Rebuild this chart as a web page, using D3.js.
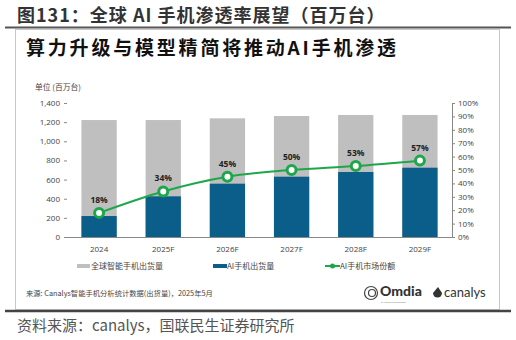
<!DOCTYPE html>
<html><head><meta charset="utf-8">
<script src="https://cdn.jsdelivr.net/npm/d3@7"></script>
<style>body{margin:0;background:#fff}svg{display:block}</style>
</head><body>
<script>
const categories = ["2024","2025F","2026F","2027F","2028F","2029F"];
const totalShipments = [1222,1222,1240,1264,1275,1275];
const aiShipments = [219,425,557,630,679,724];
const aiShare = [18,34,45,50,53,57];
const leftTicks = [0,200,400,600,800,1000,1200,1400];
const rightTicks = [0,10,20,30,40,50,60,70,80,90,100];
const legendLabels = ["全球智能手机出货量","AI手机出货量","AI手机市场份额"];

const W=516,H=340;
const font='"Noto Sans CJK SC","Noto Sans",sans-serif';
const svg=d3.select("body").append("svg").attr("width",W).attr("height",H);

// heading
svg.append("text").attr("x",17).attr("y",22).attr("font-family",font).attr("font-weight",700)
  .attr("font-size",18).attr("letter-spacing",1).attr("fill","#333").text("图131：全球 AI  手机渗透率展望（百万台）");
svg.append("line").attr("x1",5).attr("x2",511).attr("y1",27.5).attr("y2",27.5).attr("stroke","#555").attr("stroke-width",2);
// box
svg.append("rect").attr("x",15.5).attr("y",29.5).attr("width",484).attr("height",280).attr("fill","none").attr("stroke","#c8c8c8").attr("stroke-width",1);
svg.append("line").attr("x1",5).attr("x2",511).attr("y1",311).attr("y2",311).attr("stroke","#444").attr("stroke-width",2.5);
svg.append("text").attr("x",17).attr("y",331).attr("font-family",font).attr("font-size",15)
  .attr("fill","#555").text("资料来源：canalys，国联民生证券研究所");

svg.append("text").attr("x",26).attr("y",55).attr("font-family",font).attr("font-weight",700)
  .attr("font-size",19).attr("letter-spacing",2.8).attr("fill","#111").text("算力升级与模型精简将推动AI手机渗透");

const x=d3.scaleBand().domain(categories).range([67,452]).paddingInner(0.45).paddingOuter(0.225);
const y=d3.scaleLinear().domain([0,1400]).range([237,103]);
const y2=d3.scaleLinear().domain([0,100]).range([237,103]);

svg.append("text").attr("x",35).attr("y",90).attr("font-family",font).attr("font-size",7.8).attr("fill","#444").text("单位 (百万台)");

const tickFont='"Open Sans","Noto Sans",sans-serif';
const gl=svg.append("g").attr("transform","translate(67,0)")
  .call(d3.axisLeft(y).tickValues(leftTicks).tickFormat(d3.format(",")).tickSize(3).tickPadding(4));
gl.select(".domain").remove();
gl.selectAll("line").attr("stroke","#888");
gl.selectAll("text").attr("font-family",tickFont).attr("font-size",8).attr("fill","#444");

const gr=svg.append("g").attr("transform","translate(452,0)")
  .call(d3.axisRight(y2).tickValues(rightTicks).tickFormat(d=>d+"%").tickSize(3).tickPadding(3));
gr.select(".domain").attr("stroke","#888");
gr.selectAll("line").attr("stroke","#888");
gr.selectAll("text").attr("font-family",tickFont).attr("font-size",8).attr("fill","#444");

// bars
svg.append("g").selectAll("rect").data(categories).join("rect")
  .attr("x",d=>x(d)).attr("width",x.bandwidth())
  .attr("y",(d,i)=>y(totalShipments[i])).attr("height",(d,i)=>y(0)-y(totalShipments[i])).attr("fill","#bfbfbf");
svg.append("g").selectAll("rect").data(categories).join("rect")
  .attr("x",d=>x(d)).attr("width",x.bandwidth())
  .attr("y",(d,i)=>y(aiShipments[i])).attr("height",(d,i)=>y(0)-y(aiShipments[i])).attr("fill","#0b5e8a");

svg.append("line").attr("x1",67).attr("x2",452).attr("y1",237.5).attr("y2",237.5).attr("stroke","#888");

const gx=svg.append("g").attr("transform","translate(0,237)").call(d3.axisBottom(x).tickSize(0).tickPadding(9));
gx.select(".domain").remove();
gx.selectAll("text").attr("font-family",tickFont).attr("font-size",8).attr("fill","#444");

// line
const pts=categories.map((c,i)=>[x(c)+x.bandwidth()/2,y2(aiShare[i])]);
svg.append("path").attr("d",d3.line().curve(d3.curveMonotoneX)(pts)).attr("fill","none").attr("stroke","#1ea64a").attr("stroke-width",2);
svg.append("g").selectAll("circle").data(pts).join("circle").attr("cx",d=>d[0]).attr("cy",d=>d[1]).attr("r",4.5)
  .attr("fill","#fff").attr("stroke","#1ea64a").attr("stroke-width",3);
svg.append("g").selectAll("text").data(pts).join("text").attr("x",d=>d[0]).attr("y",d=>d[1]-10)
  .attr("text-anchor","middle").attr("font-family",tickFont).attr("font-weight",700).attr("font-size",8.5).attr("fill","#222")
  .text((d,i)=>aiShare[i]+"%");

// legend
const ly=266;
const lg=svg.append("g").attr("font-family",font).attr("font-size",8).attr("fill","#444");
lg.append("rect").attr("x",77).attr("y",ly-2).attr("width",13).attr("height",4).attr("fill","#bfbfbf");
lg.append("text").attr("x",91).attr("y",ly+3).text(legendLabels[0]);
lg.append("rect").attr("x",213).attr("y",ly-2).attr("width",14).attr("height",4).attr("fill","#0b5e8a");
lg.append("text").attr("x",227).attr("y",ly+3).text(legendLabels[1]);
lg.append("line").attr("x1",325).attr("x2",340).attr("y1",ly).attr("y2",ly).attr("stroke","#1ea64a").attr("stroke-width",2);
lg.append("circle").attr("cx",332.5).attr("cy",ly).attr("r",2.5).attr("fill","#1ea64a");
lg.append("text").attr("x",340).attr("y",ly+3).text(legendLabels[2]);

// source & logos
svg.append("text").attr("x",26).attr("y",296).attr("font-family",font).attr("font-size",7.3).attr("fill","#444")
  .text("来源: Canalys智能手机分析统计数据(出货量)，2025年5月");
const lo=svg.append("g");
lo.append("circle").attr("cx",371).attr("cy",293).attr("r",6.5).attr("fill","none").attr("stroke","#444").attr("stroke-width",1.2);
lo.append("circle").attr("cx",372).attr("cy",293).attr("r",3.5).attr("fill","none").attr("stroke","#444").attr("stroke-width",1.2);
lo.append("text").attr("x",380).attr("y",296).attr("font-family","Lato,sans-serif").attr("font-weight",900).attr("font-size",14).attr("fill","#333").text("Omdia");
lo.append("text").attr("x",381).attr("y",302.5).attr("font-family","sans-serif").attr("font-size",2.5).attr("fill","#777").text("by Informa TechTarget");
lo.append("path").attr("d","M438,287 L433,293 A4.5,4.5 0 1 0 442,293 Z").attr("fill","#333");
lo.append("text").attr("x",444).attr("y",297).attr("font-family","Lato,sans-serif").attr("font-size",13).attr("fill","#333").text("canalys");
</script>
</body></html>
